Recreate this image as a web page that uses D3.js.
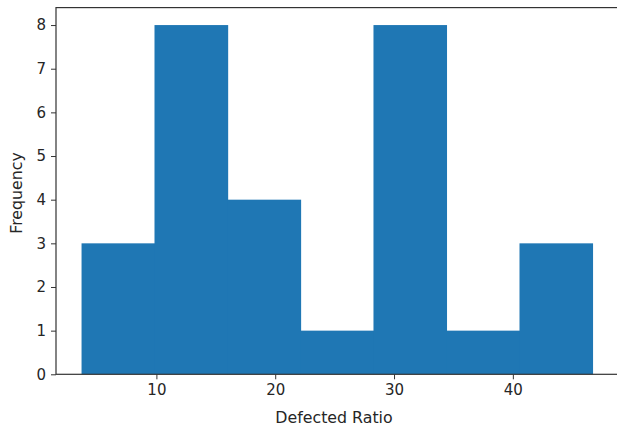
<!DOCTYPE html>
<html>
<head>
<meta charset="utf-8">
<script src="https://cdn.jsdelivr.net/npm/d3@7"></script>
<style>
  html, body { margin: 0; padding: 0; background: #fff; }
  svg { display: block; }
  text { font-family: "DejaVu Sans", sans-serif; fill: #262626; }
</style>
</head>
<body>
<svg id="chart" width="617" height="432"></svg>
<script>
// Histogram bins of the defected ratio
const binEdges = [3.7, 9.84, 15.99, 22.13, 28.27, 34.41, 40.56, 46.7];
const counts = [3, 8, 4, 1, 8, 1, 3];
const xTicks = [10, 20, 30, 40];
const yTicks = [0, 1, 2, 3, 4, 5, 6, 7, 8];
const xLabel = "Defected Ratio";
const yLabel = "Frequency";

const bins = counts.map((c, i) => ({ x0: binEdges[i], x1: binEdges[i + 1], count: c }));

const svg = d3.select("#chart");
const plot = { left: 56, right: 618, top: 7.6, bottom: 374.3 };

const x = d3.scaleLinear().domain([1.55, 48.85]).range([plot.left, plot.right]);
const y = d3.scaleLinear().domain([0, 8.4]).range([plot.bottom, plot.top]);

// bars (slightly overlapped so no seams show between neighbours)
svg.append("g")
  .selectAll("rect")
  .data(bins)
  .join("rect")
  .attr("x", d => x(d.x0))
  .attr("y", d => y(d.count))
  .attr("width", d => x(d.x1) - x(d.x0) + 0.6)
  .attr("height", d => y(0) - y(d.count))
  .attr("fill", "#1f77b4");

// axes
const xAxis = svg.append("g")
  .attr("transform", `translate(0,${plot.bottom})`)
  .call(d3.axisBottom(x).tickValues(xTicks).tickSize(5).tickPadding(5).tickFormat(d3.format("d")));
const yAxis = svg.append("g")
  .attr("transform", `translate(${plot.left},0)`)
  .call(d3.axisLeft(y).tickValues(yTicks).tickSize(5).tickPadding(5).tickFormat(d3.format("d")));

[xAxis, yAxis].forEach(g => {
  g.select(".domain").remove();
  g.selectAll(".tick line").attr("stroke", "#333").attr("stroke-width", 1);
  g.selectAll(".tick text").attr("font-size", 15).attr("fill", "#262626")
    .style("font-family", "'DejaVu Sans', sans-serif");
});

// frame
svg.append("rect")
  .attr("x", plot.left)
  .attr("y", plot.top)
  .attr("width", plot.right - plot.left)
  .attr("height", plot.bottom - plot.top)
  .attr("fill", "none")
  .attr("stroke", "#333")
  .attr("stroke-width", 1.2);

// axis titles
svg.append("text")
  .attr("x", 334)
  .attr("y", 423)
  .attr("text-anchor", "middle")
  .attr("font-size", 15.8)
  .text(xLabel);

svg.append("text")
  .attr("transform", `translate(22,193) rotate(-90)`)
  .attr("text-anchor", "middle")
  .attr("font-size", 15.8)
  .text(yLabel);
</script>
</body>
</html>
